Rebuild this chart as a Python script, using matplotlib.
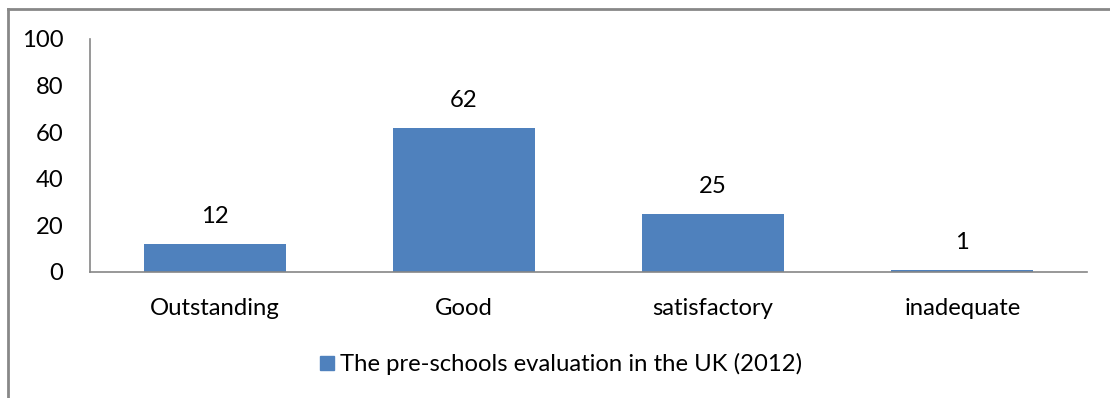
import matplotlib
matplotlib.use("Agg")
import matplotlib.pyplot as plt
from matplotlib.lines import Line2D

categories = ["Outstanding", "Good", "satisfactory", "inadequate"]
values = [12, 62, 25, 1]
yticks = [0, 20, 40, 60, 80, 100]
series_name = "The pre-schools evaluation in the UK (2012)"

plt.rcParams['font.family'] = ['Lato', 'DejaVu Sans']
W, H = 1110, 398
FS = 17.2
fig = plt.figure(figsize=(W / 100, H / 100), dpi=100)
ax = fig.add_axes([90 / W, 1 - 272 / H, (1087 - 90) / W, (272 - 39) / H])

bar_color = "#4F81BD"
x = list(range(len(categories)))
bars = ax.bar(x, values, width=0.57, color=bar_color, label=series_name, zorder=2)
ax.set_xlim(-0.5, len(categories) - 0.5)
ax.set_ylim(0, 100)
ax.set_yticks(yticks)
ax.set_yticklabels([str(t) for t in yticks], fontsize=FS)
ax.set_xticks(x)
ax.set_xticklabels(categories, fontsize=FS)
ax.tick_params(axis='y', length=0, pad=19)
ax.tick_params(axis='x', length=0, pad=19)
for s in ['top', 'right']:
    ax.spines[s].set_visible(False)
for s in ['left', 'bottom']:
    ax.spines[s].set_color('#868686')
    ax.spines[s].set_linewidth(1.2)

for b, v in zip(bars, values):
    ax.annotate(str(v), (b.get_x() + b.get_width() / 2, v), xytext=(0, 12),
                textcoords='offset points', ha='center', va='bottom', fontsize=FS)

handle = Line2D([], [], marker='s', linestyle='none', markersize=10,
                markerfacecolor=bar_color, markeredgecolor=bar_color)
fig.legend([handle], [series_name], loc='center', bbox_to_anchor=(559 / W, 1 - 364 / H),
           frameon=False, fontsize=FS, handletextpad=0.05, handlelength=1.0)

# outer chart frame (left and top visible)
fig.add_artist(Line2D([8 / W, 8 / W], [0, 1 - 9 / H], transform=fig.transFigure,
                      color='#888888', linewidth=2))
fig.add_artist(Line2D([8 / W, 1], [1 - 9 / H, 1 - 9 / H], transform=fig.transFigure,
                      color='#888888', linewidth=2))

fig.savefig("out.png", dpi=100)
